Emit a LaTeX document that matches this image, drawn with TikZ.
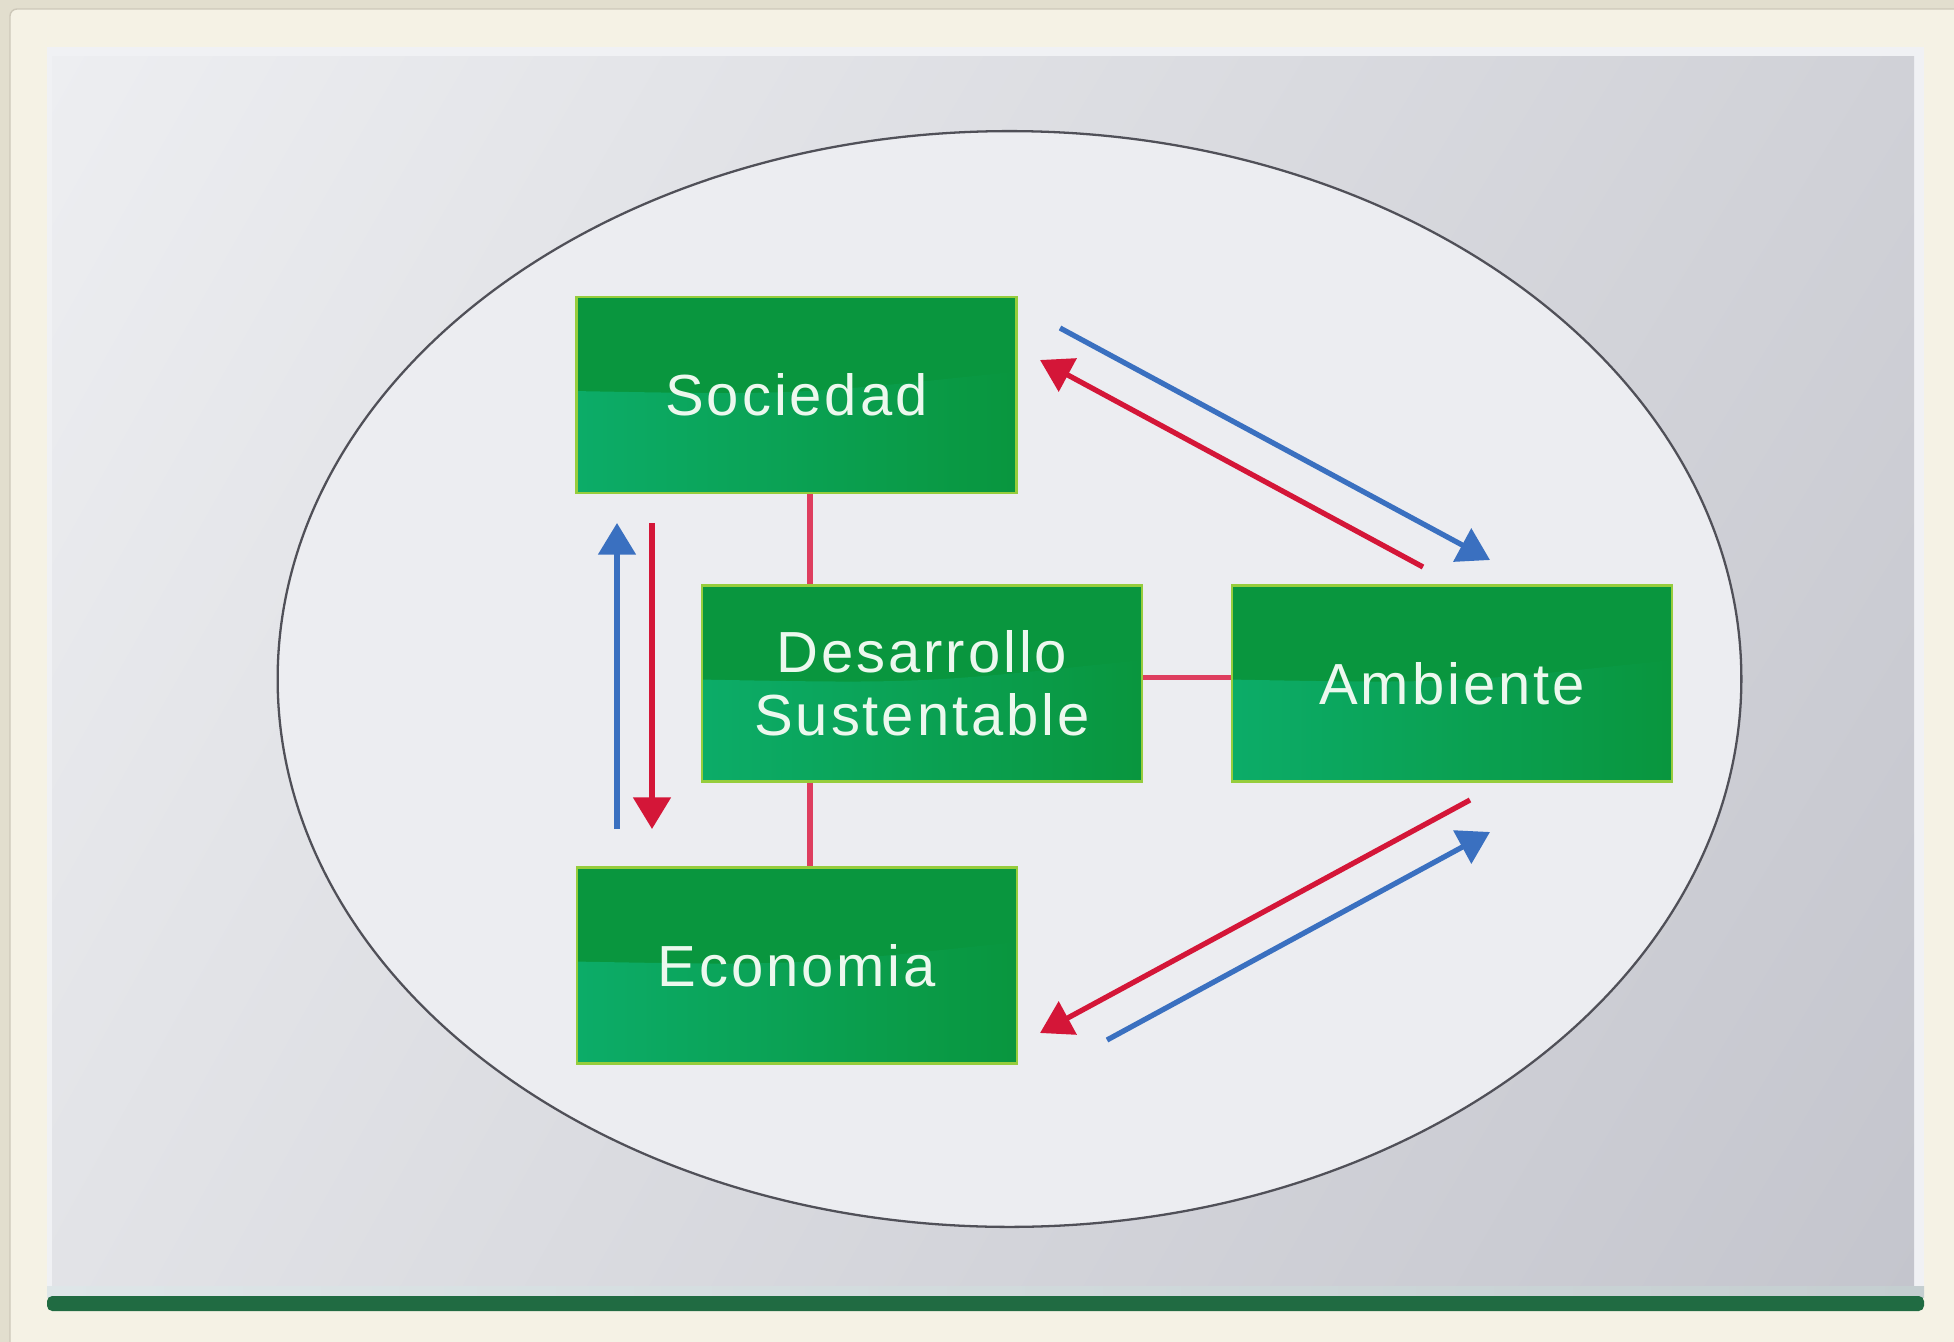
\documentclass[tikz,border=0pt]{standalone}
\usepackage{fontspec}
\usetikzlibrary{arrows.meta,calc,shadings}
\newfontfamily\boxfont{Liberation Sans}[LetterSpace=5]
\definecolor{outerbg}{RGB}{226,222,206}
\definecolor{cream}{RGB}{245,242,229}
\definecolor{creamedge}{RGB}{205,200,185}
\definecolor{panUL}{RGB}{237,238,241}
\definecolor{panUR}{RGB}{208,209,215}
\definecolor{panLL}{RGB}{226,227,231}
\definecolor{panLR}{RGB}{196,197,205}
\definecolor{panhi}{RGB}{240,241,244}
\definecolor{barGreen}{RGB}{32,107,66}
\definecolor{stripL}{RGB}{222,230,232}
\definecolor{stripR}{RGB}{196,206,208}
\definecolor{ellfill}{RGB}{236,237,241}
\definecolor{elledge}{RGB}{80,80,88}
\definecolor{boxdark}{RGB}{9,150,62}
\definecolor{boxlight}{RGB}{12,172,104}
\definecolor{boxedge}{RGB}{150,205,60}
\definecolor{boxtext}{RGB}{236,248,238}
\definecolor{linkc}{RGB}{222,62,95}
\definecolor{arrred}{RGB}{212,22,56}
\definecolor{arrblue}{RGB}{58,112,192}
\tikzset{
  greenbox/.style={draw=boxedge, line width=1.4pt, fill=boxdark,
    minimum width=8.8cm, minimum height=3.92cm, inner sep=0pt,
    text=boxtext, align=center,
    font=\boxfont\fontsize{33}{36}\selectfont,
    path picture={
      \shade[left color=boxlight, right color=boxdark]
        (path picture bounding box.south west)
        -- ($(path picture bounding box.south west)!0.52!(path picture bounding box.north west)$)
        .. controls ($(path picture bounding box.south west)!0.5!(path picture bounding box.north east)$)
        .. ($(path picture bounding box.south east)!0.62!(path picture bounding box.north east)$)
        -- (path picture bounding box.south east) -- cycle;
    }},
  link/.style={draw=linkc, line width=3pt},
  redarr/.style={draw=arrred, line width=3pt, -{Triangle[length=18pt,width=21pt]}},
  bluearr/.style={draw=arrblue, line width=3pt, -{Triangle[length=18pt,width=21pt]}}
}
\begin{document}
\begin{tikzpicture}[x=0.02cm,y=-0.02cm]
\useasboundingbox (0,0) rectangle (1954,1342);
% page background
\fill[outerbg] (0,0) rectangle (1954,1342);
\fill[cream, draw=creamedge, line width=0.8pt, rounded corners=4pt] (10,9) rectangle (1970,1360);
% panel
\fill[panhi] (47,47) rectangle (1924,1297);
\shade[upper left=panUL, upper right=panUR, lower left=panLL, lower right=panLR] (52,56) rectangle (1914,1297);
\shade[left color=stripL, right color=stripR] (47,1286) rectangle (1924,1297);
\fill[barGreen, rounded corners=3pt] (47,1296) rectangle (1924,1311);
% ellipse
\draw[draw=elledge, line width=1.3pt, fill=ellfill] (1009.5,679) ellipse [x radius=14.64cm, y radius=10.96cm];
% boxes
\node[greenbox] (soc) at (796.5,395) {Sociedad};
\node[greenbox] (des) at (922,683.5) {Desarrollo\\Sustentable};
\node[greenbox] (amb) at (1452,683.5) {Ambiente};
\node[greenbox] (eco) at (797,965.5) {Economia};
% links
\coordinate (l1) at ($(soc.south)+(13.5,0)$);
\coordinate (l2) at ($(eco.north)+(13,0)$);
\draw[link] (l1) -- (l1 |- des.north);
\draw[link] (l2 |- des.south) -- (l2);
\draw[link] ($(des.east)+(0,-6)$) -- ($(amb.west)+(0,-6)$);
% arrow end points
\coordinate (vbS) at (617,829); \coordinate (vbE) at (617,523);
\coordinate (vrS) at (652,523); \coordinate (vrE) at (652,829);
\coordinate (tbS) at (1060,328); \coordinate (tbE) at (1490,560);
\coordinate (trS) at (1423,567); \coordinate (trE) at (1040,360);
\coordinate (brS) at (1470,800); \coordinate (brE) at (1040,1033);
\coordinate (bbS) at (1107,1040); \coordinate (bbE) at (1490,832);
\draw[bluearr] (vbS) -- (vbE);
\draw[redarr] (vrS) -- (vrE);
\draw[bluearr] (tbS) -- (tbE);
\draw[redarr] (trS) -- (trE);
\draw[redarr] (brS) -- (brE);
\draw[bluearr] (bbS) -- (bbE);
\end{tikzpicture}
\end{document}
